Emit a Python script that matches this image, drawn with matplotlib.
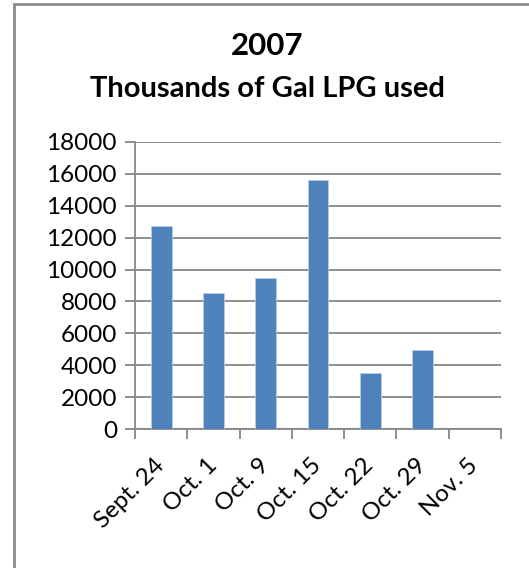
import matplotlib
matplotlib.use("Agg")
import matplotlib.pyplot as plt
from matplotlib.patches import Rectangle
import numpy as np

plt.rcParams['font.family'] = ['Lato', 'DejaVu Sans']

weeks = ["Sept. 24", "Oct. 1", "Oct. 9", "Oct. 15", "Oct. 22", "Oct. 29", "Nov. 5"]
gallons = [12750, 8500, 9450, 15600, 3540, 4950, 0]
yticks = list(range(0, 18001, 2000))

W, H = 529, 568
fig = plt.figure(figsize=(W / 100, H / 100), dpi=100)

# outer chart frame (left and top edges show)
fig.patches.append(Rectangle((14 / W, -0.1), 1.2, 1 - 3.5 / H + 0.1, transform=fig.transFigure,
                             fill=False, edgecolor="#8c8c8c", linewidth=2))

ax = fig.add_axes([135 / W, 1 - 429 / H, (501 - 135) / W, (429 - 142) / H])

x = np.arange(len(weeks))
ax.bar(x, gallons, width=0.4, color="#4F81BD", edgecolor="#B9CDE5", linewidth=0.6, zorder=3)

ax.set_xlim(-0.5, len(weeks) - 0.5)
ax.set_ylim(0, 18000)
ax.set_yticks(yticks)
ax.set_yticklabels([str(v) for v in yticks], fontsize=17.5)
ax.grid(axis="y", color="#868686", linewidth=1.3, zorder=0)

# category ticks sit between the bars
ax.set_xticks(np.arange(len(weeks) + 1) - 0.5)
ax.set_xticklabels([])
ax.set_xticks(x, minor=True)
ax.set_xticklabels(weeks, minor=True, fontsize=17.5, rotation=45, ha="right", va="center",
                   rotation_mode="anchor")
ax.tick_params(axis="x", which="minor", length=0, pad=24)
ax.tick_params(axis="x", which="major", length=7, width=1.3, color="#868686", direction="out")
ax.tick_params(axis="y", length=7, width=1.3, color="#868686", direction="out", pad=6)

for side in ["top", "right"]:
    ax.spines[side].set_visible(False)
for side in ["left", "bottom"]:
    ax.spines[side].set_color("#868686")
    ax.spines[side].set_linewidth(1.3)

fig.text(267 / W, 1 - 46 / H, "2007", ha="center", va="center", fontsize=22.5, fontweight="bold")
fig.text(267 / W, 1 - 89 / H, "Thousands of Gal LPG used", ha="center", va="center",
         fontsize=21, fontweight="bold")

fig.savefig("out.png", dpi=100)
